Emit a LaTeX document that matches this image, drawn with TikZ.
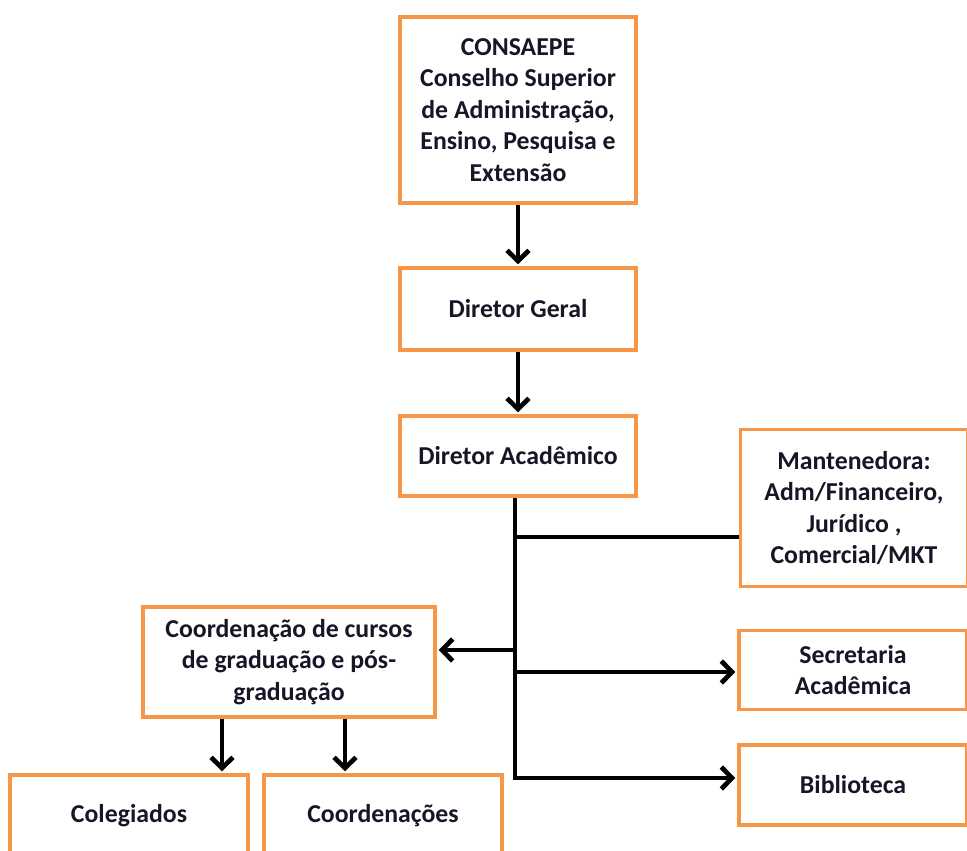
\documentclass[tikz,border=0pt]{standalone}
\usepackage{fontspec}
\setmainfont{Carlito}
\usetikzlibrary{arrows.meta, positioning}
\definecolor{boxorange}{RGB}{247,150,70}
\definecolor{textnavy}{RGB}{22,22,38}
\tikzset{
  orgbox/.style={rectangle, draw=boxorange, line width=3.2pt, fill=white,
    align=center, text=textnavy, inner sep=2pt,
    font=\fontsize{22}{27}\selectfont\bfseries},
  link/.style={line width=4pt, color=black},
  arrow/.style={link, -{Straight Barb[length=3.2mm, width=6.6mm]}, shorten >=1.6pt},
}

\begin{document}
\begin{tikzpicture}[x=0.3mm, y=-0.3mm]
  \useasboundingbox (0,0) rectangle (967,850);
  % top chain
  \node[orgbox, minimum width=70.8mm, minimum height=55.8mm] (consaepe) at (518,110)
    {CONSAEPE\\Conselho Superior\\de Administração,\\Ensino, Pesquisa e\\Extensão};
  \node[orgbox, minimum width=70.8mm, minimum height=24.6mm] (geral) at (518,309) {Diretor Geral};
  \node[orgbox, minimum width=70.8mm, minimum height=24mm] (acad) at (518,456) {Diretor Acadêmico};
  % right side
  \node[orgbox, minimum width=68.1mm, minimum height=47.1mm] (mant) at (854,508)
    {Mantenedora:\\Adm/Financeiro,\\Jurídico ,\\Comercial/MKT};
  \node[orgbox, minimum width=68.4mm, minimum height=23.7mm] (secr) at (853,670) {Secretaria\\Acadêmica};
  \node[orgbox, minimum width=68.4mm, minimum height=24mm] (bibl) at (853,785) {Biblioteca};
  % left side
  \node[orgbox, minimum width=87.6mm, minimum height=33mm] (coord) at (289,662)
    {Coordenação de cursos\\de graduação e pós-\\graduação};
  \node[orgbox, minimum width=71.4mm, minimum height=24.6mm] (coleg) at (129,816) {Colegiados};
  \node[orgbox, minimum width=71.4mm, minimum height=24.6mm] (coordn) at (383,816) {Coordenações};

  % branch heights
  \coordinate (hmant) at (0,537);
  \coordinate (hcoord) at (0,650);
  \coordinate (hsecr) at (0,672);
  \coordinate (hbibl) at (0,778);
  \coordinate (xspine) at (515,0);
  \coordinate (xcoleg) at (222,0);
  \coordinate (xcoordn) at (345,0);

  \draw[arrow] (consaepe) -- (geral);
  \draw[arrow] (geral) -- (acad);
  \draw[arrow] (acad.south -| xspine) -- (xspine |- hbibl) -- (bibl.west |- hbibl);
  \draw[link] (xspine |- hmant) -- (mant.west |- hmant);
  \draw[arrow] (xspine |- hcoord) -- (coord.east |- hcoord);
  \draw[arrow] (xspine |- hsecr) -- (secr.west |- hsecr);
  \draw[arrow] (coord.south -| xcoleg) -- (coleg.north -| xcoleg);
  \draw[arrow] (coord.south -| xcoordn) -- (coordn.north -| xcoordn);
\end{tikzpicture}
\end{document}
